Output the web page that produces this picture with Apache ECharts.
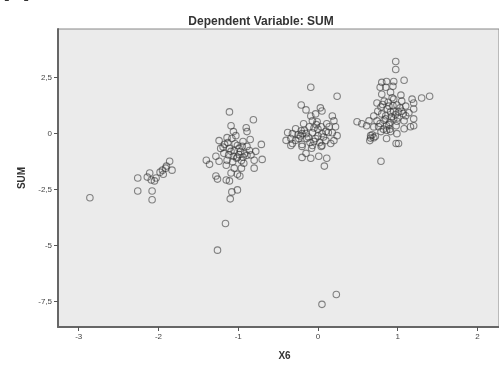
<!DOCTYPE html>
<html>
<head>
<meta charset="utf-8">
<script src="https://cdn.jsdelivr.net/npm/echarts@6/dist/echarts.min.js"></script>
<style>html,body{margin:0;padding:0;background:#fff;}#c{width:499px;height:366px;}</style>
</head>
<body>
<div id="c"></div>
<script>
// X6 values and SUM values (pairs)
var x6 = [
  -2.86,
  -2.26,-2.26,-2.14,-2.11,-2.09,-2.05,-2.03,-2.08,-2.08,-1.98,-1.95,-1.90,-1.86,-1.83,-1.91,-1.94,
  -1.11,-0.81,-1.09,-0.90,-0.89,-1.06,-1.24,-1.14,-1.03,-1.01,-0.85,-0.71,-0.78,-0.70,-0.95,-1.11,-1.09,-1.18,-1.28,-1.40,-1.36,-1.24,-1.14,-1.06,-0.99,-0.89,-0.80,-0.80,-0.96,-1.05,-1.15,-1.01,-1.09,-1.28,-0.93,-1.26,-1.15,-1.11,-0.98,-1.01,-1.08,-1.10,-1.16,-1.26,
  -1.04,-0.99,-1.08,-0.94,-0.89,-1.17,-1.22,-1.01,-0.94,-0.86,
  -1.12,-1.05,-0.97,-1.02,-0.92,-1.19,-1.07,-0.84,-1.13,-0.96,
  -0.09,0.24,-0.21,-0.15,0.03,0.05,-0.03,-0.09,0.18,0.20,-0.07,-0.01,0.11,-0.18,-0.28,-0.21,-0.11,0.04,0.14,0.22,-0.32,-0.20,-0.07,0.05,0.18,0.24,-0.34,-0.24,-0.14,-0.03,0.10,0.20,-0.32,-0.20,-0.05,0.05,0.16,-0.34,-0.20,-0.07,0.04,-0.15,-0.20,-0.09,0.01,0.11,0.08,0.05,0.23,
  -0.40,-0.38,-0.15,0.00,-0.10,0.10,-0.25,0.00,
  -0.17,-0.12,-0.05,0.07,-0.22,-0.02,0.13,-0.08,0.02,-0.28,
  0.975,0.975,1.08,0.80,0.86,0.95,0.78,0.85,0.94,0.91,0.80,1.04,1.18,1.30,1.40,1.20,1.05,0.95,0.83,0.74,0.79,0.89,0.99,1.10,1.20,1.14,1.01,0.91,0.80,0.70,0.64,0.74,0.85,0.95,1.08,1.20,0.49,0.55,0.61,1.20,1.16,1.08,0.76,0.86,0.98,0.91,0.99,0.79,0.66,0.70,0.65,0.86,0.98,1.01,0.79,
  0.85,0.90,0.95,1.00,0.75,0.88,1.05,0.82,0.70,0.90,1.10,0.93,
  0.87,0.92,0.97,0.83,1.03,0.89,0.78,0.94,1.07,0.81,0.99,0.86,0.68,0.72,0.66
];
var sum = [
  -2.86,
  -1.98,-2.56,-1.94,-1.76,-2.07,-2.11,-1.98,-2.56,-2.95,-1.72,-1.63,-1.45,-1.23,-1.63,-1.54,-1.81,
  0.97,0.62,0.35,0.26,0.09,0.09,-0.31,-0.18,-0.09,-0.53,-0.26,-0.48,-0.79,-1.15,-0.57,-0.66,-0.79,-0.88,-1.01,-1.19,-1.37,-1.23,-1.19,-1.01,-0.93,-0.97,-1.19,-1.54,-1.54,-1.54,-1.41,-1.81,-1.76,-1.89,-1.32,-2.03,-2.07,-2.11,-1.89,-2.51,-2.60,-2.91,-4.01,-5.20,
  -0.45,-0.66,-0.22,-0.35,-0.57,-0.48,-0.66,-1.05,-1.05,-0.75,
  -0.95,-0.75,-0.80,-1.10,-0.90,-0.60,-1.25,-0.95,-0.40,-1.20,
  2.07,1.67,1.28,1.06,1.15,1.01,0.88,0.79,0.79,0.57,0.57,0.53,0.44,0.44,0.22,0.13,0.31,0.31,0.31,0.31,0.00,0.00,0.04,0.00,0.04,-0.09,-0.22,-0.22,-0.22,-0.22,-0.31,-0.31,-0.44,-0.48,-0.35,-0.53,-0.44,-0.53,-0.57,-0.53,-0.57,-0.88,-1.06,-1.10,-1.01,-1.10,-1.45,-7.62,-7.18,
  -0.30,0.05,0.00,-0.10,-0.40,0.10,-0.05,0.20,
  0.15,-0.15,0.25,-0.15,-0.10,0.40,0.05,-0.65,-0.40,-0.30,
  3.22,2.86,2.38,2.29,2.33,2.33,2.07,2.07,2.11,1.85,1.76,1.72,1.54,1.59,1.67,1.37,1.45,1.54,1.45,1.37,1.19,1.23,1.28,1.23,1.10,0.93,0.97,0.97,0.88,0.79,0.57,0.57,0.66,0.66,0.57,0.66,0.53,0.44,0.35,0.35,0.31,0.22,0.31,0.35,0.35,0.09,0.00,0.09,-0.09,-0.18,-0.31,-0.22,-0.44,-0.44,-1.23,
  0.80,0.50,1.00,0.70,1.00,1.40,1.00,0.20,0.30,0.20,0.80,1.60,
  1.10,0.75,0.85,0.60,1.15,0.40,0.45,1.25,0.90,1.30,0.55,0.15,-0.05,-0.12,-0.20
];
var xTicks = [-3, -2, -1, 0, 1, 2];
var yTicks = [-7.5, -5, -2.5, 0, 2.5];
var titleText = 'Dependent Variable: SUM';
var xName = 'X6';
var yName = 'SUM';

var pts = x6.map(function (v, i) { return [v, sum[i]]; });
var chart = echarts.init(document.getElementById('c'), null, { renderer: 'canvas' });
chart.setOption({
  animation: false,
  backgroundColor: '#ffffff',
  title: {
    text: titleText, left: 256, top: 11, textAlign: 'center',
    textStyle: { fontFamily: 'Liberation Sans', fontSize: 12, fontWeight: 'bold', color: '#333' }
  },
  graphic: [{
    type: 'text', left: 4, top: -14,
    style: { text: '[…]', font: 'bold 15px Liberation Sans', fill: '#333' }
  }],
  grid: {
    left: 58, top: 29, right: -2, bottom: 35, show: true,
    backgroundColor: '#ebebeb', borderColor: '#888', borderWidth: 1
  },
  xAxis: {
    type: 'value', min: -3.26, max: 2.27,
    name: xName, nameLocation: 'middle', nameGap: 24,
    nameTextStyle: { fontFamily: 'Liberation Sans', fontSize: 10, fontWeight: 'bold', color: '#333', padding: [0, 0, 0, 12] },
    axisLine: { show: true, onZero: false, lineStyle: { color: '#666', width: 2 } },
    axisTick: { show: true, length: 4, customValues: xTicks, lineStyle: { color: '#555' } },
    axisLabel: { customValues: xTicks, fontFamily: 'Liberation Sans', fontSize: 8, color: '#444', margin: 6 },
    splitLine: { show: false }
  },
  yAxis: {
    type: 'value', min: -8.63, max: 4.67,
    name: yName, nameLocation: 'middle', nameGap: 31, nameRotate: 90,
    nameTextStyle: { fontFamily: 'Liberation Sans', fontSize: 10, fontWeight: 'bold', color: '#333' },
    axisLine: { show: true, onZero: false, lineStyle: { color: '#666', width: 2 } },
    axisTick: { show: true, length: 4, customValues: yTicks, lineStyle: { color: '#555' } },
    axisLabel: {
      customValues: yTicks, fontFamily: 'Liberation Sans', fontSize: 8, color: '#444', margin: 6,
      formatter: function (v) { return String(v).replace('.', ','); }
    },
    splitLine: { show: false }
  },
  series: [{
    type: 'scatter', data: pts, symbol: 'circle', symbolSize: 6.5,
    itemStyle: { color: 'rgba(0,0,0,0)', borderColor: 'rgba(50,50,50,0.72)', borderWidth: 1.1 }
  }]
});
</script>
</body>
</html>
